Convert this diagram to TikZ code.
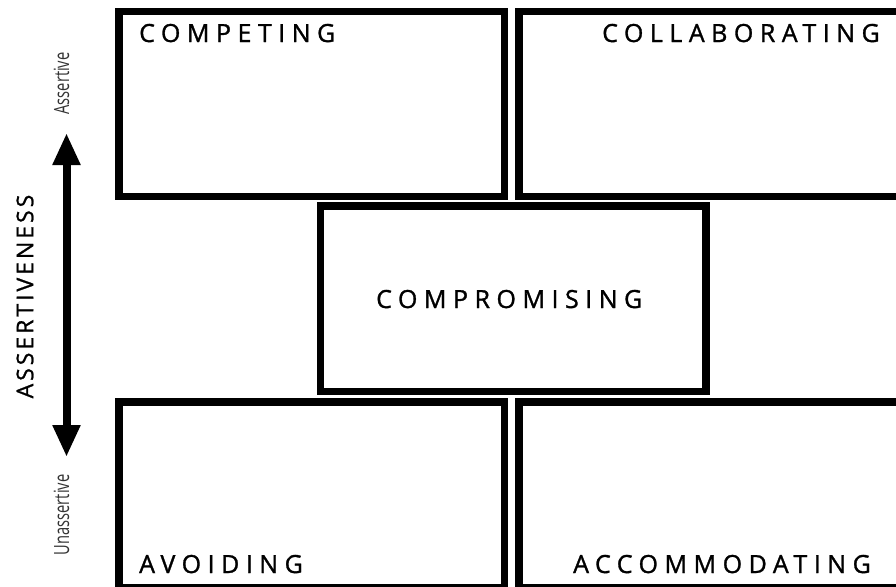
\documentclass[tikz,border=0pt]{standalone}
\usepackage{fontspec}
\setmainfont{Open Sans}
\newfontfamily\labfont[LetterSpace=26,FakeBold=1.2]{Open Sans}
\newfontfamily\axfont[LetterSpace=13,FakeBold=1]{Open Sans}
\newfontfamily\condfont[FakeStretch=0.7]{Open Sans}
\usetikzlibrary{arrows.meta}
\begin{document}
\begin{tikzpicture}[x=1pt,y=-1pt,
  box/.style={draw=black,line width=7.5pt,rectangle,inner sep=0pt,outer sep=0pt},
  lab/.style={inner sep=0pt,font=\labfont\fontsize{25}{25}\selectfont},
  side/.style={inner sep=0pt,rotate=90,text=black!80,font=\condfont\fontsize{21}{21}\selectfont},
  bigarrow/.style={line width=8pt,{Triangle[length=32pt,width=26pt]}-{Triangle[length=32pt,width=26pt]}}
]
\useasboundingbox (0,0) rectangle (896,586);
\clip (0,0) rectangle (896,586);
% boxes
\node[box,minimum width=385.5pt,minimum height=185pt] (competing) at (311.75,104) {};
\node[box,minimum width=391pt,minimum height=185pt] (collaborating) at (714.5,104) {};
\node[box,minimum width=385.5pt,minimum height=185.5pt] (compromising) at (513.25,298.75) {};
\node[box,minimum width=385.5pt,minimum height=185.5pt] (avoiding) at (311.75,494.75) {};
\node[box,minimum width=391pt,minimum height=185.5pt] (accommodating) at (714.5,494.75) {};
% labels
\node[lab,anchor=base west] (tcompeting) at (139,42) {COMPETING};
\node[lab,anchor=base west] (tcollaborating) at (602,42) {COLLABORATING};
\node[lab,anchor=base west] (tcompromising) at (376,308) {COMPROMISING};
\node[lab,anchor=base west] (tavoiding) at (139,573) {AVOIDING};
\node[lab,anchor=base west] (taccommodating) at (573,573) {ACCOMMODATING};
% axis
\coordinate (atop) at (66.5,133);
\coordinate (abot) at (66.5,457);
\draw[bigarrow] (atop) -- (abot);
\node[inner sep=0pt,rotate=90,font=\axfont\fontsize{23}{23}\selectfont] (assertiveness) at (25,296.5) {ASSERTIVENESS};
\node[side] (assertive) at (61.5,83.5) {Assertive};
\node[side] (unassertive) at (61.5,515) {Unassertive};
\end{tikzpicture}
\end{document}
